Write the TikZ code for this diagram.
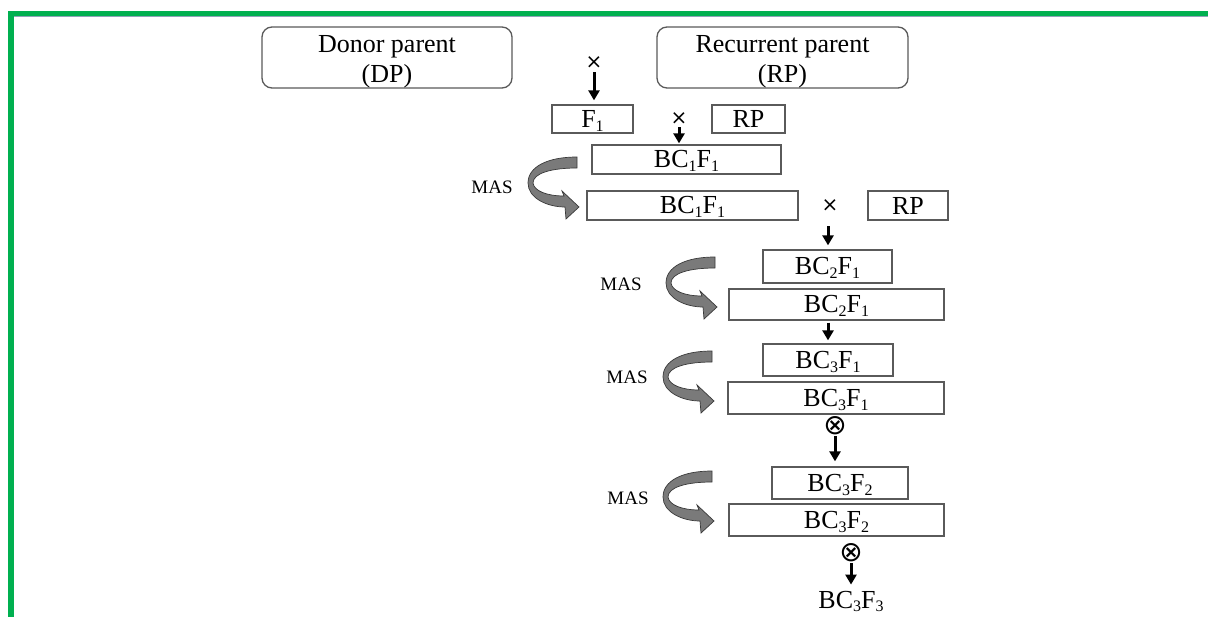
\documentclass[tikz,border=0pt]{standalone}
\usepackage{fontspec}
\setmainfont{Liberation Serif}
\newfontfamily\dejavu{DejaVu Sans}
\usetikzlibrary{arrows.meta}
\definecolor{framegreen}{HTML}{00B050}
\definecolor{framerule}{HTML}{8FA3B8}
\definecolor{boxline}{HTML}{5A5A5A}
\definecolor{masgray}{HTML}{7A7A7A}
\definecolor{masedge}{HTML}{3A3A3A}
\newcommand\lsub[1]{\raisebox{-0.3ex}[0pt][0pt]{\fontsize{16}{16}\selectfont #1}}
\newcommand\bcf[2]{BC\lsub{#1}F\lsub{#2}}
\begin{document}
\begin{tikzpicture}[x=1pt,y=-1pt,
  font=\fontsize{26}{30}\selectfont,
  box/.style={draw=boxline,line width=1.3pt,inner sep=0pt,fill=white},
  parent/.style={box,rounded corners=10pt,align=center},
  cross/.style={inner sep=0pt,font=\dejavu\fontsize{20}{20}\selectfont},
  selfing/.style={inner sep=0pt,font=\dejavu\fontsize{28}{28}\selectfont},
  maslabel/.style={inner sep=0pt,font=\fontsize{19}{19}\selectfont},
  flow/.style={line width=3pt,-{Triangle[length=10pt,width=11pt]}},
  masarrow/.pic={
    \filldraw[fill=masgray,draw=masedge,line width=0.7pt]
      (0,0) .. controls (-30,0) and (-49,10) .. (-49,26)
      .. controls (-49,41) and (-30,50) .. (-12,50)
      -- (-11,62) -- (2,50) -- (-15,34) -- (-13,39)
      .. controls (-30,39) and (-43,34) .. (-44,26)
      .. controls (-44,16) and (-25,11) .. (0,11) -- cycle;
  }]
\useasboundingbox (0,0) rectangle (1208,617);
\fill[white] (0,0) rectangle (1208,617);
% frame
\fill[framegreen] (8,11) rectangle (1208,16);
\fill[framegreen] (8,11) rectangle (14,617);
\draw[framerule,line width=1pt] (14,16.6) -- (1208,16.6);

% parents
\node[parent,minimum width=250pt,minimum height=61pt] (dp) at (387,57.5) {\rule{0pt}{25pt}Donor parent\\(DP)};
\node[parent,minimum width=251pt,minimum height=61pt] (rp) at (782.5,57.5) {\rule{0pt}{25pt}Recurrent parent\\(RP)};

\node[cross] (x1) at (594,63) {×};
\node[box,minimum width=81pt,minimum height=28pt] (f1) at (592.5,119) {F\lsub{1}};
\node[cross] (x2) at (679,119) {×};
\node[box,minimum width=73pt,minimum height=28pt] (rp1) at (748.5,119) {RP};

\node[box,minimum width=189pt,minimum height=29pt] (b11a) at (686.5,159.5) {\bcf11};
\node[box,minimum width=211pt,minimum height=29pt] (b11b) at (692.5,205.5) {\bcf11};
\node[cross] (x3) at (830,206) {×};
\node[box,minimum width=80pt,minimum height=29pt] (rp2) at (908,205.5) {RP};

\node[box,minimum width=129pt,minimum height=33pt] (b21a) at (827.5,266.5) {\bcf21};
\node[box,minimum width=215pt,minimum height=31pt] (b21b) at (836.5,304.5) {\bcf21};

\node[box,minimum width=130pt,minimum height=32pt] (b31a) at (828,360) {\bcf31};
\node[box,minimum width=216pt,minimum height=32pt] (b31b) at (836,398) {\bcf31};
\node[selfing] (o1) at (835,426) {⊗};

\node[box,minimum width=136pt,minimum height=32pt] (b32a) at (840,483) {\bcf32};
\node[box,minimum width=215pt,minimum height=32pt] (b32b) at (836.5,520) {\bcf32};
\node[selfing] (o2) at (851,553) {⊗};

\node[inner sep=0pt,anchor=base] (b33) at (851,608) {\bcf33};

% MAS
\pic at (577,157) {masarrow};
\node[maslabel] (m1) at (492,187) {MAS};
\pic at (715,257) {masarrow};
\node[maslabel] (m2) at (621,284) {MAS};
\pic at (712,351) {masarrow};
\node[maslabel] (m3) at (627,377) {MAS};
\pic at (712,471) {masarrow};
\node[maslabel] (m4) at (628,498) {MAS};

% connectors
\draw[flow] ([yshift=-3pt]x1.south) -- ([yshift=4pt]x1.south |- f1.north);
\draw[flow] ([yshift=-2pt]x2.south) -- ([yshift=1pt]x2.south |- b11a.north);
\draw[flow] ([xshift=-2pt,yshift=-14pt]x3.south) -- ([xshift=-2pt,yshift=4pt]x3.south |- b21a.north);
\draw[flow] ([yshift=-2pt]b31a.north |- b21b.south) -- ([yshift=3pt]b31a.north);
\draw[flow] ([yshift=-1pt]o1.south) -- ([yshift=5pt]o1.south |- b32a.north);
\draw[flow] ([yshift=-1pt]o2.south) -- ([yshift=6pt]b33.north);
\end{tikzpicture}
\end{document}
